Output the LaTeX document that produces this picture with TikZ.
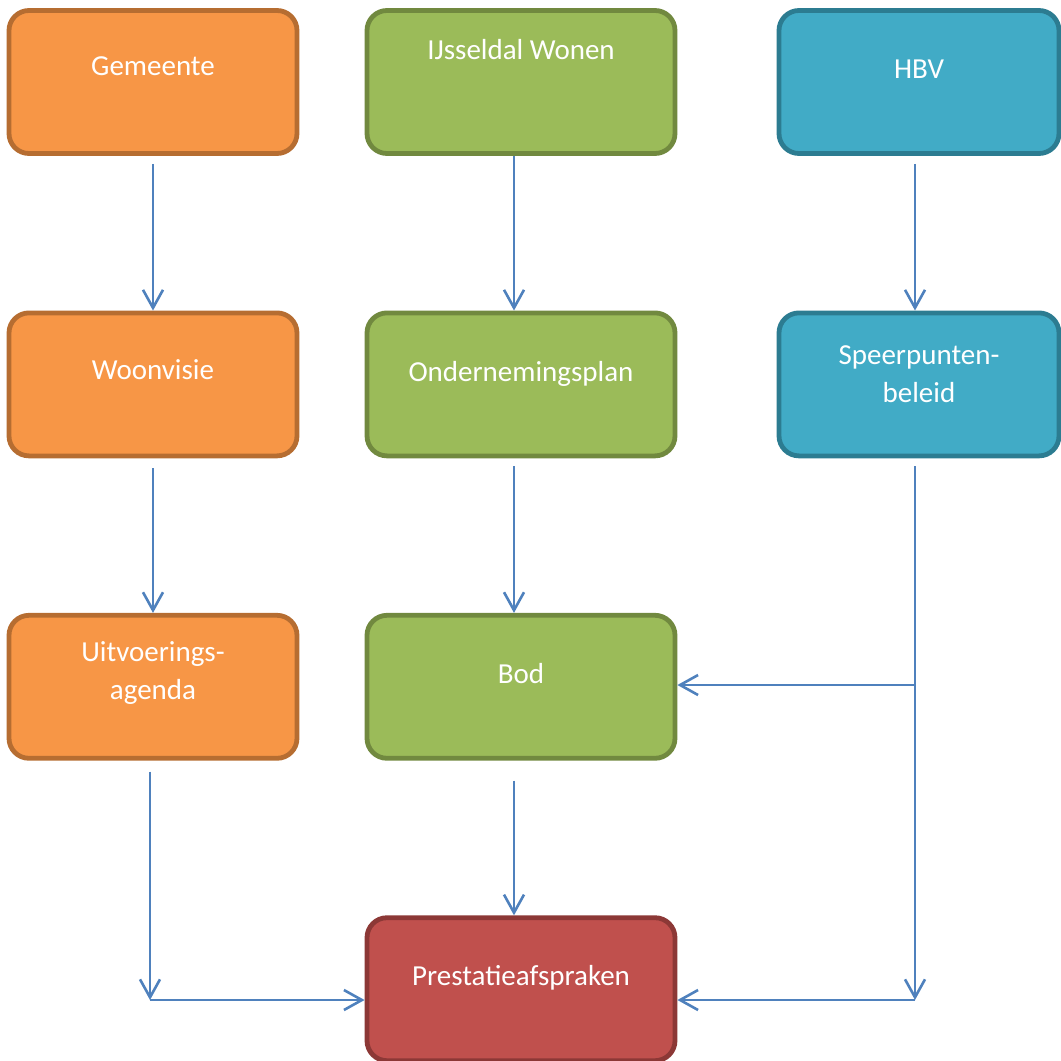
\documentclass[tikz,border=0pt]{standalone}
\usepackage{fontspec}
\setmainfont{Carlito}
\usetikzlibrary{positioning, arrows.meta}

\definecolor{orgfill}{HTML}{F79646}
\definecolor{orgline}{HTML}{B66D31}
\definecolor{grnfill}{HTML}{9BBB59}
\definecolor{grnline}{HTML}{71893F}
\definecolor{blufill}{HTML}{41ABC6}
\definecolor{bluline}{HTML}{2C7C91}
\definecolor{redfill}{HTML}{C0504D}
\definecolor{redline}{HTML}{8C3836}
\definecolor{linkblue}{HTML}{4F81BD}

\begin{document}
\begin{tikzpicture}[x=0.5pt, y=-0.5pt, node distance=77.3pt and 32.6pt,
    box/.style={draw, line width=2.4pt, rounded corners=10pt, minimum height=71.5pt, inner sep=0pt},
    gemeente/.style={box, fill=orgfill, draw=orgline, minimum width=144pt},
    corporatie/.style={box, fill=grnfill, draw=grnline, minimum width=154pt},
    huurders/.style={box, fill=blufill, draw=bluline, minimum width=140pt},
    lbl/.style={text=white, font=\fontsize{14.5}{19}\selectfont, align=center, yshift=7.5pt},
    link/.style={draw=linkblue, line width=1.3pt, -{Straight Barb[length=9pt,width=10pt]}}]

    \useasboundingbox (0,0) rectangle (1061,1061);

    % boxes per party
    \node[gemeente] (gem) at (153,82) {};
    \node[gemeente, below=of gem] (woon) {};
    \node[gemeente, below=of woon] (uit) {};
    \node[corporatie, right=of gem] (ijs) {};
    \node[corporatie, below=of ijs] (ond) {};
    \node[corporatie, below=of ond] (bod) {};
    \node[box, fill=redfill, draw=redline, minimum width=154pt, below=of bod] (pre) {};
    \node[huurders, right=49.6pt of ijs] (hbv) {};
    \node[huurders, below=of hbv] (speer) {};

    % texts
    \node[lbl, yshift=0.5pt] (gemtxt) at (gem) {Gemeente};
    \node[lbl] (woontxt) at (woon) {Woonvisie};
    \node[lbl, yshift=-0.5pt] (uittxt) at (uit) {Uitvoerings-\\agenda};
    \node[lbl, yshift=8.5pt] (ijstxt) at (ijs) {IJsseldal Wonen};
    \node[lbl, yshift=-2.5pt] (ondtxt) at (ond) {Ondernemingsplan};
    \node[lbl, yshift=-1pt] (bodtxt) at (bod) {Bod};
    \node[lbl, yshift=-2pt] (pretxt) at (pre) {Prestatieafspraken};
    \node[lbl, yshift=-1pt] (hbvtxt) at (hbv) {HBV};
    \node[lbl, yshift=-2.5pt] (speertxt) at (speer) {Speerpunten-\\beleid};

    % corners of the bent connectors
    \coordinate (lc) at ([xshift=-1.5pt]uit.south |- 0,1000);
    \coordinate (rc) at ([xshift=-2pt]speer.south |- 0,1000);
    \coordinate (rb) at ([xshift=-2pt]speer.south |- 0,685);

    % connectors
    \draw[link, shorten <=4pt] (gem) -- (woon);
    \draw[link, shorten <=5pt] (woon) -- (uit);
    \draw[link, shorten <=5.5pt] ([xshift=-1.5pt]uit.south) -- (lc);
    \draw[link] (lc) -- (lc -| pre.west);
    \draw[link] ([xshift=-3.5pt]ijs.south) -- ([xshift=-3.5pt]ond.north);
    \draw[link, shorten <=4pt] ([xshift=-3.5pt]ond.south) -- ([xshift=-3.5pt]bod.north);
    \draw[link, shorten <=10pt] ([xshift=-3.5pt]bod.south) -- ([xshift=-3.5pt]pre.north);
    \draw[link, shorten <=4pt] ([xshift=-2pt]hbv.south) -- ([xshift=-2pt]speer.north);
    \draw[link, shorten <=4pt] ([xshift=-2pt]speer.south) -- (rc);
    \draw[link] (rc) -- (rc -| pre.east);
    \draw[link] (rb) -- (rb -| bod.east);
\end{tikzpicture}
\end{document}
